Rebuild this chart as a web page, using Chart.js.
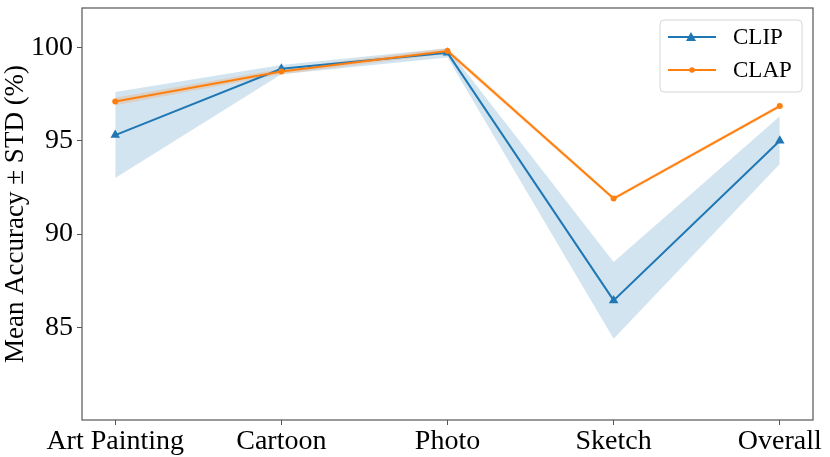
<!DOCTYPE html>
<html>
<head>
<meta charset="utf-8">
<script src="https://cdn.jsdelivr.net/npm/chart.js@4.4.0/dist/chart.umd.min.js"></script>
<style>
  html, body { margin: 0; padding: 0; background: #fff; }
  #wrap { width: 830px; height: 457px; }
</style>
</head>
<body>
<div id="wrap"><canvas id="chart" width="830" height="457"></canvas></div>
<script>
// ---- data ----
const categories = ["Art Painting", "Cartoon", "Photo", "Sketch", "Overall"];
const clipMean  = [95.3, 98.85, 99.7, 86.45, 95.0];
const clipUpper = [97.6, 99.05, 99.95, 88.5, 96.3];
const clipLower = [93.0, 98.55, 99.45, 84.4, 93.75];
const clapMean  = [97.1, 98.7, 99.8, 91.9, 96.85];
const clapUpper = [97.3, 98.85, 99.95, 92.0, 96.95];
const clapLower = [96.9, 98.55, 99.65, 91.8, 96.75];
const yTicks = [85, 90, 95, 100];

const BLUE = "#1f77b4";
const ORANGE = "#ff7f0e";
const FONT = "'Liberation Serif', 'Times New Roman', serif";

const pts = arr => arr.map((v, i) => ({ x: i, y: v }));

// box round the axes, like matplotlib
const frame = {
  id: "frame",
  afterDatasetsDraw(chart) {
    const { ctx, chartArea: a } = chart;
    ctx.save();
    ctx.strokeStyle = "#555";
    ctx.lineWidth = 1.2;
    ctx.strokeRect(a.left, a.top, a.right - a.left, a.bottom - a.top);
    ctx.restore();
  }
};

// legend box top right
const legendBox = {
  id: "legendBox",
  afterDraw(chart) {
    const ctx = chart.ctx;
    const x = 660, y = 20, w = 142, h = 72;
    ctx.save();
    ctx.fillStyle = "rgba(255,255,255,0.8)";
    ctx.strokeStyle = "#d6d6d6";
    ctx.lineWidth = 1;
    ctx.beginPath();
    ctx.roundRect(x, y, w, h, 4);
    ctx.fill();
    ctx.stroke();

    const rows = [
      { label: "CLIP", color: BLUE, marker: "tri", cy: 37 },
      { label: "CLAP", color: ORANGE, marker: "dot", cy: 70 }
    ];
    rows.forEach(r => {
      ctx.strokeStyle = r.color;
      ctx.lineWidth = 2;
      ctx.beginPath();
      ctx.moveTo(668, r.cy);
      ctx.lineTo(716, r.cy);
      ctx.stroke();
      ctx.fillStyle = r.color;
      ctx.beginPath();
      if (r.marker === "tri") {
        ctx.moveTo(691, r.cy - 5);
        ctx.lineTo(696, r.cy + 4);
        ctx.lineTo(686, r.cy + 4);
        ctx.closePath();
      } else {
        ctx.arc(692, r.cy, 2.8, 0, Math.PI * 2);
      }
      ctx.fill();
      ctx.fillStyle = "#000";
      ctx.font = "23px " + FONT;
      ctx.textBaseline = "middle";
      ctx.fillText(r.label, 733, r.cy + 1);
    });
    ctx.restore();
  }
};

new Chart(document.getElementById("chart"), {
  type: "line",
  data: {
    datasets: [
      {
        label: "CLIP",
        data: pts(clipMean),
        borderColor: BLUE,
        backgroundColor: BLUE,
        borderWidth: 2,
        pointStyle: "triangle",
        pointRadius: 5.5,
        pointBorderWidth: 0,
        fill: false,
        tension: 0,
        order: 1
      },
      {
        label: "CLAP",
        data: pts(clapMean),
        borderColor: ORANGE,
        backgroundColor: ORANGE,
        borderWidth: 2,
        pointStyle: "circle",
        pointRadius: 3,
        pointBorderWidth: 0,
        fill: false,
        tension: 0,
        order: 0
      },
      {
        label: "clipUpper",
        data: pts(clipUpper),
        borderWidth: 0,
        pointRadius: 0,
        backgroundColor: "rgba(31,119,180,0.2)",
        fill: "+1",
        order: 3
      },
      {
        label: "clipLower",
        data: pts(clipLower),
        borderWidth: 0,
        pointRadius: 0,
        fill: false,
        order: 3
      },
      {
        label: "clapUpper",
        data: pts(clapUpper),
        borderWidth: 0,
        pointRadius: 0,
        backgroundColor: "rgba(255,127,14,0.2)",
        fill: "+1",
        order: 2
      },
      {
        label: "clapLower",
        data: pts(clapLower),
        borderWidth: 0,
        pointRadius: 0,
        fill: false,
        order: 2
      }
    ]
  },
  options: {
    responsive: false,
    animation: false,
    devicePixelRatio: 1,
    layout: { padding: { top: 8, right: 17, left: 0, bottom: 0 } },
    plugins: {
      legend: { display: false },
      tooltip: { enabled: false }
    },
    scales: {
      x: {
        type: "linear",
        min: -0.2,
        max: 4.2,
        afterBuildTicks: s => { s.ticks = categories.map((c, i) => ({ value: i })); },
        afterFit: s => { s.height = 37; s.paddingLeft = 0; s.paddingRight = 0; },
        ticks: {
          color: "#000",
          font: { family: FONT, size: 28 },
          padding: 0,
          maxRotation: 0,
          autoSkip: false,
          callback: v => categories[v]
        },
        grid: { drawOnChartArea: false, drawTicks: true, tickLength: 5, color: "#555" },
        border: { display: false }
      },
      y: {
        min: 80.05,
        max: 102.1,
        afterBuildTicks: s => { s.ticks = yTicks.map(v => ({ value: v })); },
        afterFit: s => { s.width = 82; s.paddingTop = 0; s.paddingBottom = 0; },
        ticks: {
          color: "#000",
          font: { family: FONT, size: 28 },
          padding: 4
        },
        grid: { drawOnChartArea: false, drawTicks: true, tickLength: 5, color: "#555" },
        border: { display: false },
        title: {
          display: true,
          text: "Mean Accuracy ± STD (%)",
          color: "#000",
          font: { family: FONT, size: 27 },
          padding: { top: 0, bottom: 0 }
        }
      }
    }
  },
  plugins: [frame, legendBox]
});
</script>
</body>
</html>
